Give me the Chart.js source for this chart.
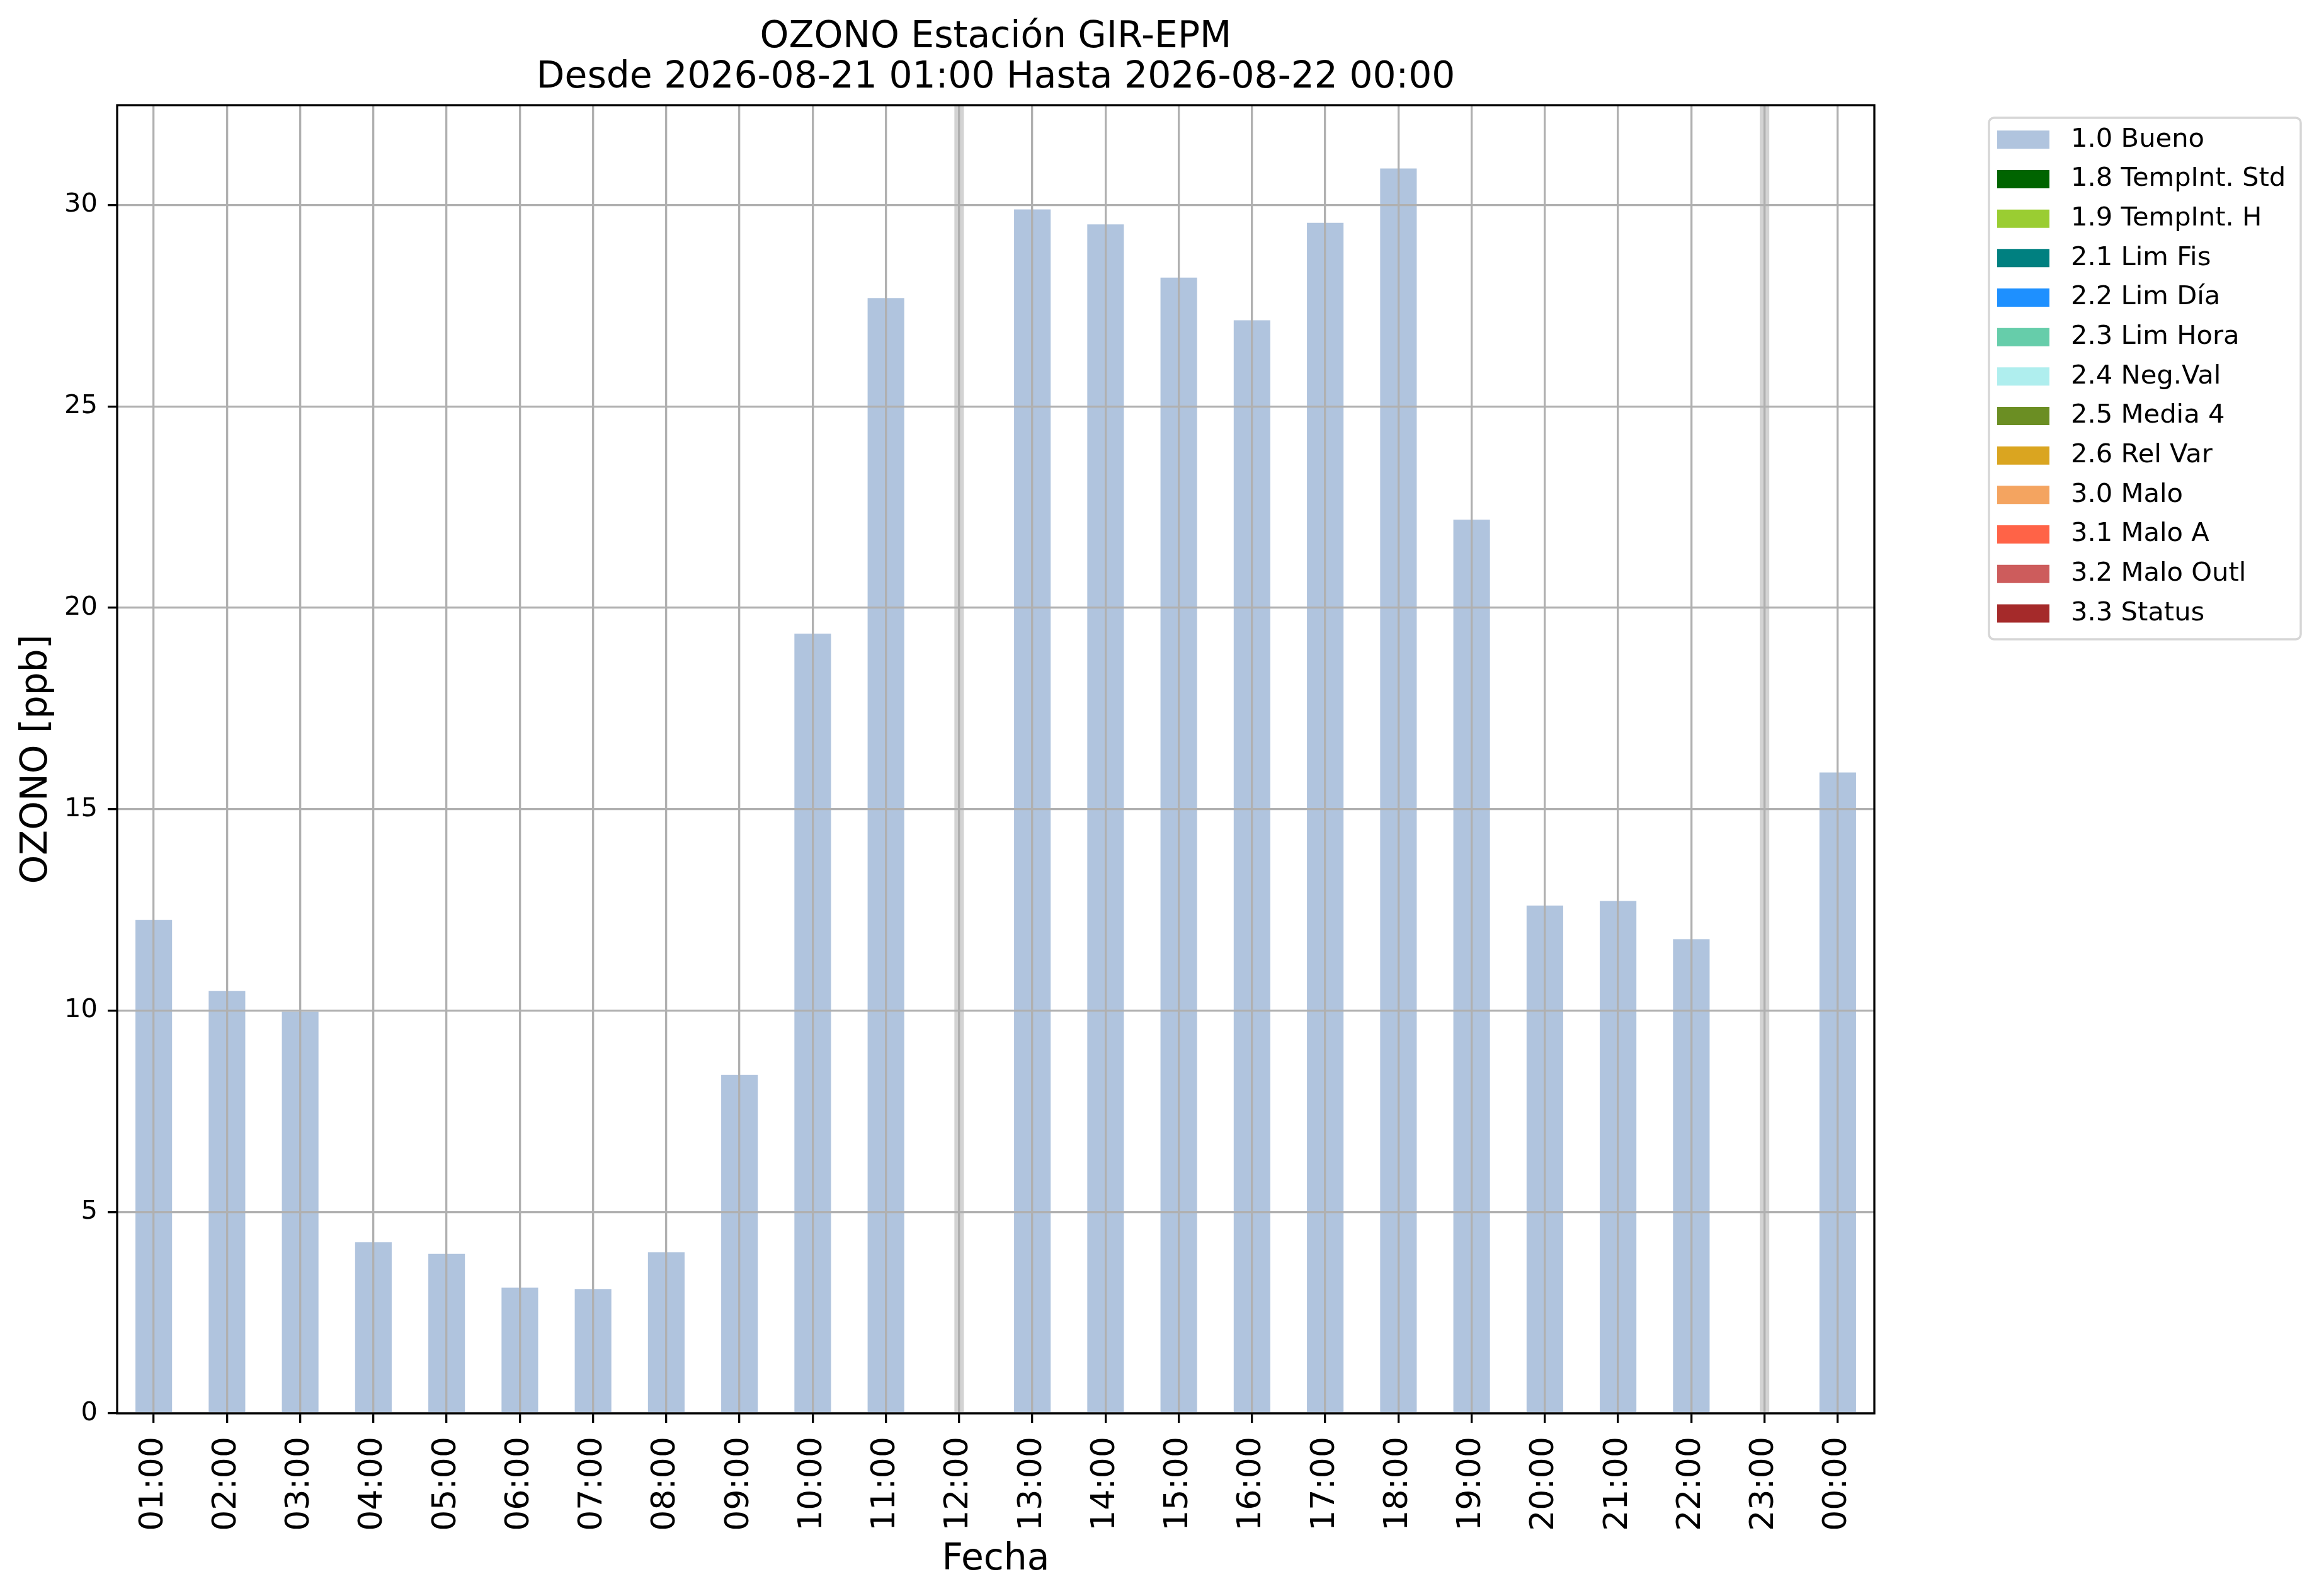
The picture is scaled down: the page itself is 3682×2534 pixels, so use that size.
<!DOCTYPE html>
<html>
<head>
<meta charset="utf-8">
<script src="https://cdn.jsdelivr.net/npm/chart.js@4.4.1/dist/chart.umd.min.js"></script>
<style>
  html, body { margin: 0; padding: 0; background: #fff; }
  canvas { display: block; }
</style>
</head>
<body>
<canvas id="chart" width="3682" height="2534" style="width:3682px;height:2534px"></canvas>
<script>
// hourly ozone, 2026-08-21 01:00 .. 2026-08-22 00:00 (null = no data)
const hours = ['01:00', '02:00', '03:00', '04:00', '05:00', '06:00', '07:00', '08:00',
               '09:00', '10:00', '11:00', '12:00', '13:00', '14:00', '15:00', '16:00',
               '17:00', '18:00', '19:00', '20:00', '21:00', '22:00', '23:00', '00:00'];
const ozone = [12.25, 10.49, 9.97, 4.25, 3.96, 3.12, 3.08, 4.00,
               8.40, 19.36, 27.69, null, 29.89, 29.52, 28.20, 27.14,
               29.56, 30.91, 22.19, 12.61, 12.72, 11.77, null, 15.91];

// quality flags shown in the legend
const flagNames = ['1.0 Bueno', '1.8 TempInt. Std', '1.9 TempInt. H', '2.1 Lim Fis', '2.2 Lim Día',
                   '2.3 Lim Hora', '2.4 Neg.Val', '2.5 Media 4', '2.6 Rel Var', '3.0 Malo',
                   '3.1 Malo A', '3.2 Malo Outl', '3.3 Status'];
const flagColors = ['#b0c4de', '#006400', '#9acd32', '#008080', '#1e90ff',
                    '#66cdaa', '#afeeee', '#6b8e23', '#daa520', '#f4a460',
                    '#ff6347', '#cd5c5c', '#a52a2a'];

const yTicks = [0, 5, 10, 15, 20, 25, 30];
const Y_MAX = 32.48;

Chart.defaults.font.family = "'DejaVu Sans', sans-serif";
Chart.defaults.color = '#000';

const datasets = flagNames.map((name, i) => ({
    label: name,
    data: i === 0 ? ozone : [],
    backgroundColor: flagColors[i],
    borderWidth: 0,
    barPercentage: 0.5,
    categoryPercentage: 1.0,
    grouped: false
}));

// grey marks where the hour has no data
datasets.push({
    label: 'missing',
    data: ozone.map(v => v === null ? Y_MAX : null),
    backgroundColor: '#d3d3d3',
    borderWidth: 0,
    barPercentage: 0.13,
    categoryPercentage: 1.0,
    grouped: false
});

// grid drawn above the bars, like matplotlib
const gridStyle = {
    z: 1,
    color: '#b0b0b0',
    lineWidth: 3.3,
    drawTicks: true,
    tickLength: 15,
    tickColor: '#000',
    tickWidth: 3.3
};

// axes box + legend frame
const frames = {
    id: 'frames',
    afterDraw(chart) {
        const {ctx, chartArea: a, legend} = chart;
        ctx.save();
        ctx.strokeStyle = '#000';
        ctx.lineWidth = 3.3;
        ctx.strokeRect(a.left, a.top, a.right - a.left, a.bottom - a.top);

        ctx.strokeStyle = '#d6d6d6';
        ctx.lineWidth = 3.5;
        ctx.beginPath();
        ctx.roundRect(legend.left + 8, legend.top + 20, 495, 828, 8);
        ctx.stroke();
        ctx.restore();
    }
};

new Chart(document.getElementById('chart'), {
    type: 'bar',
    data: {labels: hours, datasets: datasets},
    plugins: [frames],
    options: {
        responsive: false,
        devicePixelRatio: 1,
        animation: false,
        layout: {padding: {top: 0, left: 0, right: 52, bottom: 0}},
        scales: {
            x: {
                type: 'category',
                offset: true,
                grid: Object.assign({offset: false}, gridStyle),
                border: {display: false},
                ticks: {
                    autoSkip: false,
                    minRotation: 90,
                    maxRotation: 90,
                    padding: 22,
                    font: {size: 52},
                    color: '#000'
                },
                title: {
                    display: true,
                    text: 'Fecha',
                    font: {size: 58.3},
                    color: '#000',
                    padding: {top: 0, bottom: 22}
                },
                afterFit(s) { s.height = 290; }
            },
            y: {
                type: 'linear',
                min: 0,
                max: Y_MAX,
                grid: gridStyle,
                border: {display: false},
                ticks: {
                    includeBounds: false,
                    padding: 16,
                    font: {size: 41.67},
                    color: '#000'
                },
                afterBuildTicks(s) { s.ticks = yTicks.map(v => ({value: v})); },
                title: {
                    display: true,
                    text: 'OZONO [ppb]',
                    font: {size: 58.3},
                    color: '#000',
                    padding: {top: 24, bottom: 0}
                },
                afterFit(s) { s.width = 186; }
            },
            // empty gutter between the plot and the legend
            gap: {
                type: 'linear',
                position: 'right',
                display: true,
                grid: {display: false, drawTicks: false},
                ticks: {display: false},
                border: {display: false},
                afterFit(s) { s.width = 174; }
            }
        },
        plugins: {
            title: {
                display: true,
                text: ['OZONO Estación GIR-EPM', 'Desde 2026-08-21 01:00 Hasta 2026-08-22 00:00'],
                font: {size: 58.3, weight: 'normal', lineHeight: '64px'},
                color: '#000',
                padding: {top: 28, bottom: 11},
                fullSize: false
            },
            legend: {
                position: 'right',
                align: 'start',
                fullSize: false,
                maxWidth: 480,
                title: {display: true, text: '', font: {size: 13, lineHeight: 1}, padding: 0},
                labels: {
                    boxWidth: 83,
                    boxHeight: 29,
                    padding: 21,
                    font: {size: 41.67},
                    color: '#000',
                    generateLabels(chart) {
                        return Chart.defaults.plugins.legend.labels.generateLabels(chart)
                            .filter(item => item.datasetIndex < flagNames.length)
                            .map(item => Object.assign(item, {text: ' ' + item.text, lineWidth: 0, hidden: false}));
                    }
                }
            },
            tooltip: {enabled: false}
        }
    }
});
</script>
</body>
</html>
